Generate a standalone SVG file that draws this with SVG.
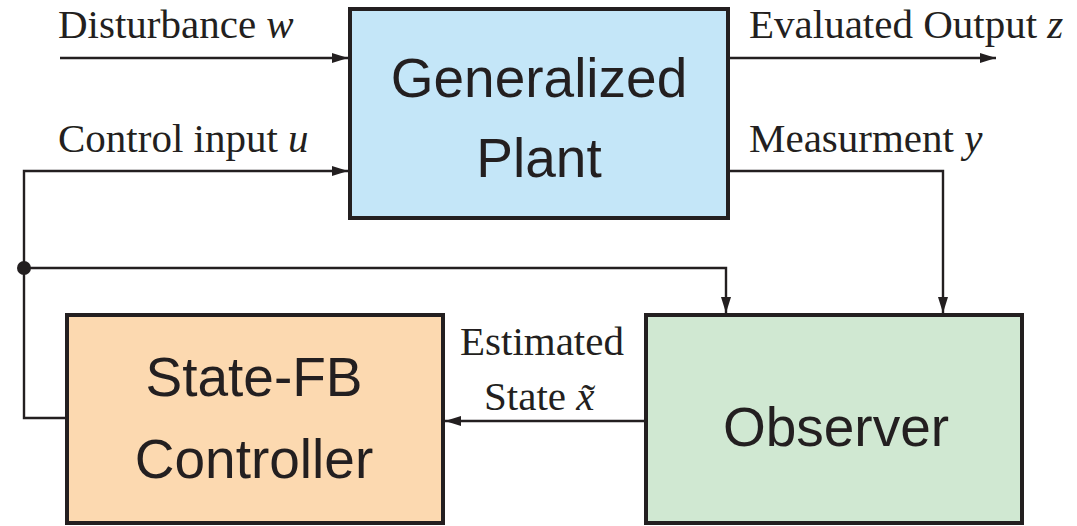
<svg xmlns="http://www.w3.org/2000/svg" width="1077" height="526" viewBox="0 0 1077 526">
  <style>
    .box { stroke: #231f20; stroke-width: 4; }
    .wire { fill: none; stroke: #231f20; stroke-width: 2.4; }
    .lbl { font-family: "Liberation Serif", "Times New Roman", serif; font-size: 41px; fill: #231f20; }
    .math { font-style: italic; }
    .name { font-family: "Liberation Sans", Arial, sans-serif; font-size: 55px; fill: #231f20; text-anchor: middle; }
  </style>
  <defs>
    <marker id="arrow" viewBox="0 0 16 10" refX="16" refY="5" markerWidth="16" markerHeight="10" markerUnits="userSpaceOnUse" orient="auto">
      <path d="M0,0 L16,5 L0,10 Z" fill="#231f20"/>
    </marker>
  </defs>

  <rect width="1077" height="526" fill="#ffffff"/>

  <g id="plant">
    <rect class="box" x="350" y="9" width="378" height="209" fill="#c4e6f8"/>
    <text class="name" x="539" y="97">Generalized</text>
    <text class="name" x="539" y="177">Plant</text>
  </g>

  <g id="controller">
    <rect class="box" x="67" y="315" width="376" height="208" fill="#fcd9b0"/>
    <text class="name" x="254" y="396">State-FB</text>
    <text class="name" x="254" y="478">Controller</text>
  </g>

  <g id="observer">
    <rect class="box" x="646" y="315" width="376" height="208" fill="#d0e8d2"/>
    <text class="name" x="836" y="446" font-size="56">Observer</text>
  </g>

  <g id="connectors">
    <!-- disturbance into plant -->
    <line class="wire" x1="60" y1="58" x2="348" y2="58" marker-end="url(#arrow)"/>
    <!-- evaluated output -->
    <line class="wire" x1="730" y1="58" x2="996" y2="58" marker-end="url(#arrow)"/>
    <!-- controller output back to plant -->
    <polyline class="wire" points="65,418 24,418 24,171 348,171" marker-end="url(#arrow)"/>
    <!-- measurement to observer -->
    <polyline class="wire" points="730,171 943,171 943,313" marker-end="url(#arrow)"/>
    <!-- control input tap to observer -->
    <polyline class="wire" points="24,268 726,268 726,313" marker-end="url(#arrow)"/>
    <circle cx="24" cy="268" r="7" fill="#231f20"/>
    <!-- estimated state to controller -->
    <line class="wire" x1="645" y1="421" x2="445" y2="421" marker-end="url(#arrow)"/>
  </g>

  <g id="labels">
    <text class="lbl" x="58" y="38">Disturbance <tspan class="math">w</tspan></text>
    <text class="lbl" x="58" y="152">Control input <tspan class="math">u</tspan></text>
    <text class="lbl" x="749" y="38">Evaluated Output <tspan class="math">z</tspan></text>
    <text class="lbl" x="749" y="152">Measurment <tspan class="math">y</tspan></text>
    <text class="lbl" x="460" y="355">Estimated</text>
    <text class="lbl" x="484" y="410">State <tspan class="math">x̃</tspan></text>
  </g>
</svg>
